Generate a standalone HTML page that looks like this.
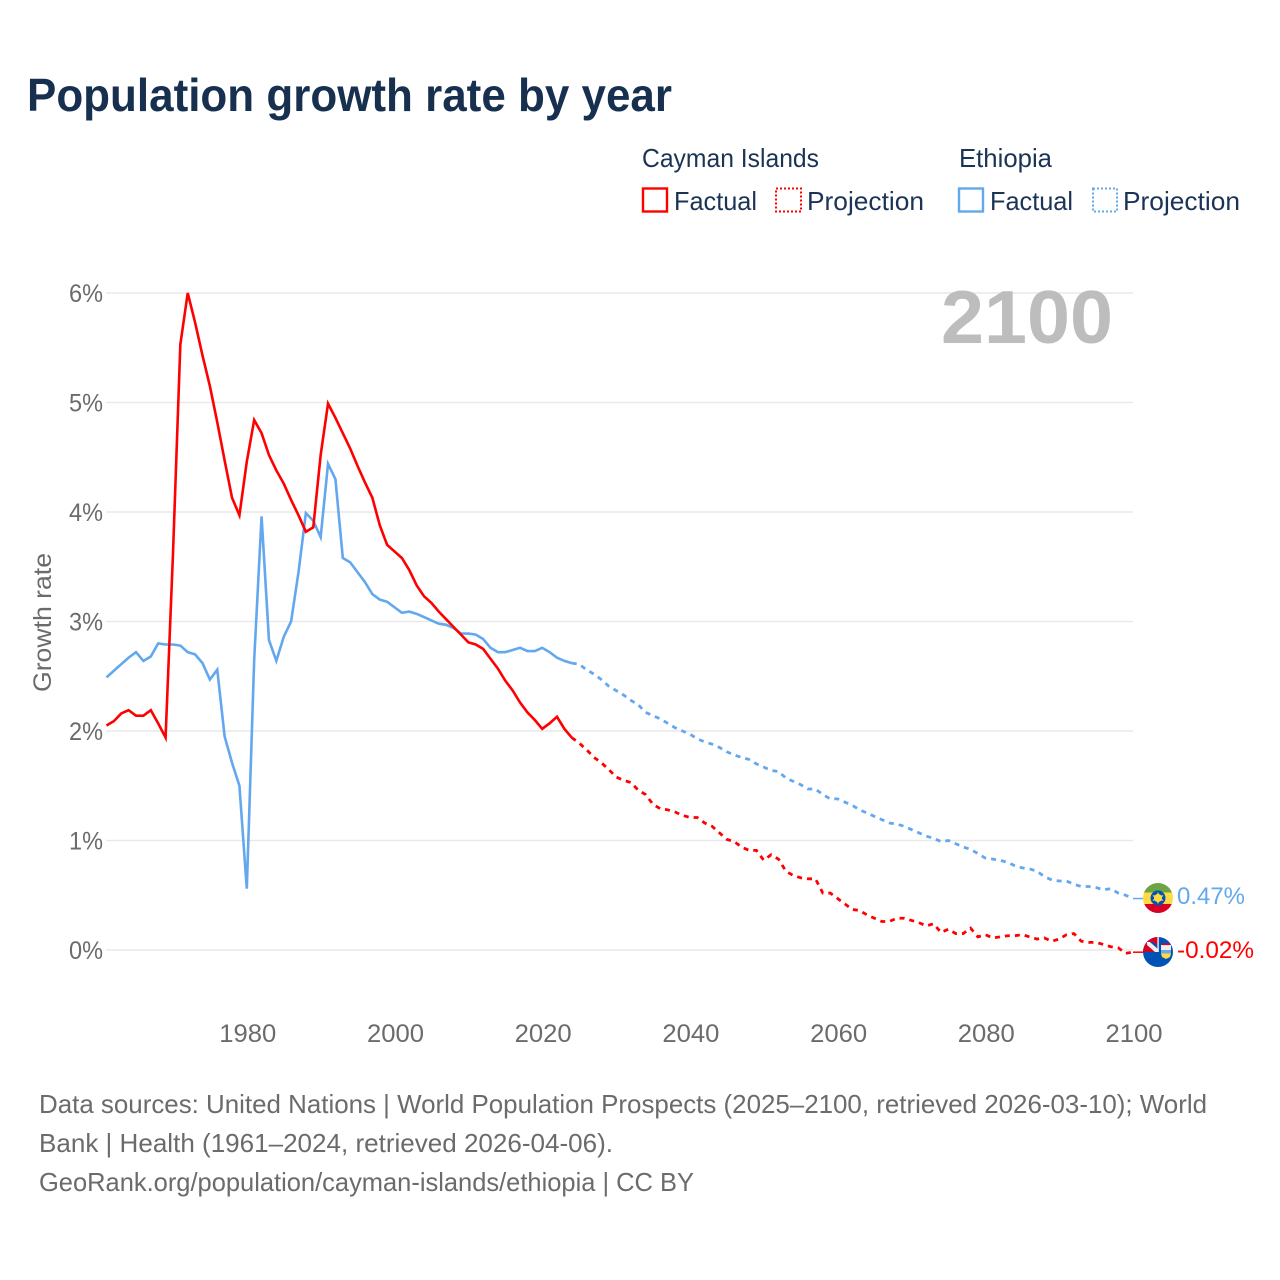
<!DOCTYPE html>
<html lang="en">
<head>
<meta charset="utf-8">
<title>Population growth rate by year</title>
<style>
html,body{margin:0;padding:0;background:#fff;width:1280px;height:1280px;overflow:hidden}
svg{display:block;font-family:"Liberation Sans",sans-serif}
.legend-text{font-size:26px;fill:#1b3455}
.foot{font-size:26px;fill:#6b6b6b}
.tick{font-size:25px;fill:#6b6b6b}
</style>
</head>
<body>
<svg id="chart" xmlns="http://www.w3.org/2000/svg" width="1280" height="1280" viewBox="0 0 1280 1280">
  <rect x="0" y="0" width="1280" height="1280" fill="#fff"/>
  <text x="27" y="111" font-size="46" font-weight="700" fill="#17304f" textLength="645" lengthAdjust="spacingAndGlyphs">Population growth rate by year</text>

  <g>
    <text class="legend-text" x="642" y="167" textLength="177" lengthAdjust="spacingAndGlyphs">Cayman Islands</text>
    <text class="legend-text" x="959" y="167" textLength="93" lengthAdjust="spacingAndGlyphs">Ethiopia</text>
    <g>
      <rect x="643" y="188.5" width="24" height="23" fill="none" stroke="#ff0000" stroke-width="2.4"/>
      <text class="legend-text" x="674" y="210" textLength="83" lengthAdjust="spacingAndGlyphs">Factual</text>
    </g>
    <g>
      <rect x="776" y="188.5" width="25" height="23" fill="none" stroke="#ff0000" stroke-width="2" stroke-dasharray="2 2"/>
      <text class="legend-text" x="807" y="210" textLength="117" lengthAdjust="spacingAndGlyphs">Projection</text>
    </g>
    <g>
      <rect x="959" y="188.5" width="24" height="23" fill="none" stroke="#63a8ee" stroke-width="2.4"/>
      <text class="legend-text" x="990" y="210" textLength="83" lengthAdjust="spacingAndGlyphs">Factual</text>
    </g>
    <g>
      <rect x="1093" y="188.5" width="24" height="23" fill="none" stroke="#63a8ee" stroke-width="2" stroke-dasharray="2 2"/>
      <text class="legend-text" x="1123" y="210" textLength="117" lengthAdjust="spacingAndGlyphs">Projection</text>
    </g>
  </g>

  <g id="grid"></g>
  <g id="yticks"></g>
  <g id="xticks"></g>

  <text transform="translate(51 622.5) rotate(-90)" text-anchor="middle" font-size="25" fill="#6b6b6b" textLength="139" lengthAdjust="spacingAndGlyphs">Growth rate</text>
  <text x="941" y="343" font-size="75" font-weight="700" fill="#bdbdbd" textLength="172" lengthAdjust="spacingAndGlyphs">2100</text>

  <g id="series"></g>

  <defs>
    <clipPath id="clip-et"><circle cx="1158" cy="898" r="15"/></clipPath>
    <clipPath id="clip-ky"><circle cx="1158" cy="952" r="15"/></clipPath>
  </defs>

  <g id="flag-ethiopia" clip-path="url(#clip-et)">
    <rect x="1143" y="883" width="30" height="9.5" fill="#6da544"/>
    <rect x="1143" y="892.5" width="30" height="11.5" fill="#ffda44"/>
    <rect x="1143" y="904" width="30" height="9" fill="#d80027"/>
    <circle cx="1158" cy="898" r="7.5" fill="#0052b4"/>
    <circle cx="1158" cy="898" r="4" fill="#ffda44"/>
    <polygon points="1158,891.8 1159.4,895.6 1163.6,895.2 1161.2,898 1163.6,900.8 1159.4,900.4 1158,904.2 1156.6,900.4 1152.4,900.8 1154.8,898 1152.4,895.2 1156.6,895.6" fill="#ffda44"/>
  </g>

  <g id="flag-cayman" clip-path="url(#clip-ky)">
    <rect x="1143" y="937" width="30" height="30" fill="#0052b4"/>
    <rect x="1143" y="937" width="15" height="15" fill="#d80027"/>
    <polygon points="1147,942 1150,942 1158,949 1158,952 1155,952 1147,945" fill="#f0f0f0"/>
    <polygon points="1150,942 1153,942 1158,946 1158,949" fill="#0052b4"/>
    <rect x="1157.4" y="937" width="1.4" height="15" fill="#f0f0f0"/>
    <rect x="1161" y="945" width="10" height="5" fill="#f0f0f0"/>
    <rect x="1161" y="950" width="10" height="3.5" fill="#6aa9e8"/>
    <polygon points="1161,953.5 1171,953.5 1170,957 1166,959 1162,957" fill="#ffda44"/>
    <rect x="1162" y="943.5" width="8" height="1.6" fill="#d80027"/>
  </g>

  <text x="1177" y="904" font-size="24" fill="#63a8ee" textLength="68" lengthAdjust="spacingAndGlyphs">0.47%</text>
  <text x="1177" y="958" font-size="24" fill="#ff0000" textLength="77" lengthAdjust="spacingAndGlyphs">-0.02%</text>

  <g>
    <text class="foot" x="39" y="1113" textLength="1168" lengthAdjust="spacingAndGlyphs">Data sources: United Nations | World Population Prospects (2025–2100, retrieved 2026-03-10); World</text>
    <text class="foot" x="39" y="1152" textLength="574" lengthAdjust="spacingAndGlyphs">Bank | Health (1961–2024, retrieved 2026-04-06).</text>
    <text class="foot" x="39" y="1191" textLength="655" lengthAdjust="spacingAndGlyphs">GeoRank.org/population/cayman-islands/ethiopia | CC BY</text>
  </g>
</svg>

<script>
const factualStartYear = 1961;
const projectionStartYear = 2024;
const xTickYears = [1980, 2000, 2020, 2040, 2060, 2080, 2100];
const yTickValues = [0, 1, 2, 3, 4, 5, 6];
const yTickLabels = ["0%", "1%", "2%", "3%", "4%", "5%", "6%"];

const caymanFactual = [
  2.05,2.09,2.16,2.19,2.14,2.14,2.19,2.07,1.94,3.61,
  5.53,6.00,5.73,5.43,5.15,4.82,4.47,4.13,3.97,4.46,
  4.84,4.72,4.52,4.38,4.26,4.11,3.97,3.82,3.86,4.52,
  4.99,4.86,4.72,4.58,4.42,4.27,4.13,3.88,3.70,3.64,
  3.58,3.47,3.33,3.23,3.17,3.09,3.02,2.95,2.88,2.81,
  2.79,2.75,2.66,2.57,2.46,2.37,2.26,2.17,2.10,2.02,
  2.07,2.13,2.02,1.94
];
const caymanProjection = [
  1.94,
  1.89,1.83,1.76,1.71,1.65,1.58,1.55,1.53,1.46,1.42,
  1.33,1.29,1.28,1.26,1.23,1.21,1.21,1.16,1.13,1.07,
  1.01,0.99,0.94,0.91,0.91,0.82,0.87,0.83,0.72,0.68,
  0.66,0.65,0.65,0.52,0.52,0.47,0.42,
  0.37,0.36,0.32,0.29,0.26,0.26,0.29,0.29,0.27,0.25,
  0.22,0.24,0.16,0.19,0.15,0.15,0.20,0.12,0.14,0.11,
  0.12,0.13,0.13,0.14,0.12,0.10,0.11,0.08,0.10,0.14,
  0.15,0.08,0.07,0.07,0.05,0.03,0.02,-0.03,-0.02
];
const ethiopiaFactual = [
  2.49,2.55,2.61,2.67,2.72,2.64,2.68,2.80,2.79,2.79,
  2.78,2.72,2.70,2.62,2.47,2.56,1.95,1.71,1.50,0.56,
  2.65,3.96,2.83,2.64,2.86,3.00,3.45,3.99,3.92,3.77,
  4.44,4.30,3.58,3.54,3.45,3.36,3.25,3.20,3.18,3.13,
  3.08,3.09,3.07,3.04,3.01,2.98,2.97,2.94,2.89,2.89,
  2.88,2.84,2.76,2.72,2.72,2.74,2.76,2.73,2.73,2.76,
  2.72,2.67,2.64,2.62
];
const ethiopiaProjection = [
  2.62,
  2.61,2.56,2.52,2.47,2.41,2.37,2.33,2.28,2.24,2.17,
  2.14,2.11,2.07,2.03,2.00,1.97,1.93,1.90,1.88,1.85,
  1.81,1.78,1.76,1.74,1.70,1.67,1.64,1.63,1.57,1.54,
  1.51,1.47,1.47,1.42,1.38,1.38,1.35,
  1.32,1.28,1.25,1.22,1.19,1.16,1.15,1.13,1.10,1.07,
  1.04,1.02,0.99,1.00,0.97,0.94,0.92,0.88,0.84,0.83,
  0.82,0.80,0.77,0.75,0.74,0.72,0.67,0.64,0.63,0.63,
  0.60,0.58,0.58,0.57,0.55,0.56,0.52,0.50,0.47
];

const NS = "http://www.w3.org/2000/svg";
const xScale = function (year) { return 1133 - (2100 - year) * 7.385; };
const yScale = function (value) { return 950 - value * 109.5; };

function makeEl(tag, parentId) {
  const el = document.createElementNS(NS, tag);
  document.getElementById(parentId).appendChild(el);
  return el;
}

yTickValues.forEach(function (value, i) {
  const grid = makeEl("line", "grid");
  
  
  grid.setAttribute("x1", 106);
  grid.setAttribute("x2", 1133);
  grid.setAttribute("y1", yScale(value));
  grid.setAttribute("y2", yScale(value));
  grid.setAttribute("stroke", "#e9e9e9");
  grid.setAttribute("stroke-width", "1.5");

  const label = makeEl("text", "yticks");
  
  
  label.setAttribute("class", "tick");
  label.setAttribute("x", 103);
  label.setAttribute("y", yScale(value) + 9);
  label.setAttribute("text-anchor", "end");
  label.setAttribute("textLength", "34");
  label.setAttribute("lengthAdjust", "spacingAndGlyphs");
  label.textContent = yTickLabels[i];
});

xTickYears.forEach(function (year) {
  const label = makeEl("text", "xticks");
  
  
  label.setAttribute("class", "tick");
  label.setAttribute("x", xScale(year) + 1);
  label.setAttribute("y", 1042);
  label.setAttribute("text-anchor", "middle");
  label.setAttribute("textLength", "57");
  label.setAttribute("lengthAdjust", "spacingAndGlyphs");
  label.textContent = String(year);
});

function buildPath(startYear, values) {
  return values.map(function (value, i) {
    return (i ? "L" : "M") + xScale(startYear + i).toFixed(2) + " " + yScale(value).toFixed(2);
  }).join(" ");
}

const ethiopiaLine = makeEl("path", "series");


ethiopiaLine.setAttribute("d", buildPath(factualStartYear, ethiopiaFactual));
ethiopiaLine.setAttribute("fill", "none");
ethiopiaLine.setAttribute("stroke", "#63a8ee");
ethiopiaLine.setAttribute("stroke-width", "2.6");

const caymanLine = makeEl("path", "series");


caymanLine.setAttribute("d", buildPath(factualStartYear, caymanFactual));
caymanLine.setAttribute("fill", "none");
caymanLine.setAttribute("stroke", "#ff0000");
caymanLine.setAttribute("stroke-width", "2.6");

const ethiopiaDash = makeEl("path", "series");


ethiopiaDash.setAttribute("d", buildPath(projectionStartYear, ethiopiaProjection));
ethiopiaDash.setAttribute("fill", "none");
ethiopiaDash.setAttribute("stroke", "#63a8ee");
ethiopiaDash.setAttribute("stroke-width", "2.8");
ethiopiaDash.setAttribute("stroke-dasharray", "5 5");

const caymanDash = makeEl("path", "series");


caymanDash.setAttribute("d", buildPath(projectionStartYear, caymanProjection));
caymanDash.setAttribute("fill", "none");
caymanDash.setAttribute("stroke", "#ff0000");
caymanDash.setAttribute("stroke-width", "2.8");
caymanDash.setAttribute("stroke-dasharray", "5 5");

const ethiopiaLeader = makeEl("line", "series");


ethiopiaLeader.setAttribute("x1", xScale(2100));
ethiopiaLeader.setAttribute("x2", 1143);
ethiopiaLeader.setAttribute("y1", yScale(ethiopiaProjection[ethiopiaProjection.length - 1]));
ethiopiaLeader.setAttribute("y2", yScale(ethiopiaProjection[ethiopiaProjection.length - 1]));
ethiopiaLeader.setAttribute("stroke", "#63a8ee");
ethiopiaLeader.setAttribute("stroke-width", "1.5");

const caymanLeader = makeEl("line", "series");


caymanLeader.setAttribute("x1", xScale(2100));
caymanLeader.setAttribute("x2", 1143);
caymanLeader.setAttribute("y1", yScale(caymanProjection[caymanProjection.length - 1]));
caymanLeader.setAttribute("y2", yScale(caymanProjection[caymanProjection.length - 1]));
caymanLeader.setAttribute("stroke", "#ff0000");
caymanLeader.setAttribute("stroke-width", "1.5");
</script>
</body>
</html>
